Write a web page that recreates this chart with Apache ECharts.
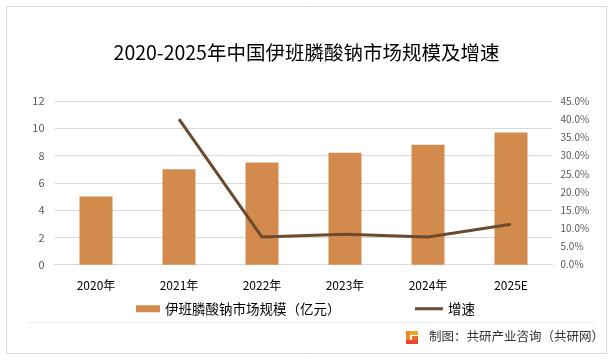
<!DOCTYPE html>
<html><head><meta charset="utf-8">
<script src="https://cdn.jsdelivr.net/npm/echarts@6/dist/echarts.min.js"></script>
<style>html,body{margin:0;padding:0;background:#fff}#c{width:613px;height:360px}</style>
</head><body><div id="c"></div>
<script>
const categories = ['2020年','2021年','2022年','2023年','2024年','2025E'];
const marketSize = [5.0, 7.0, 7.5, 8.2, 8.8, 9.7];
const growth = [null, 40.0, 7.6, 8.4, 7.6, 11.1];
const leftTicks = {min:0, max:12, interval:2};
const rightTicks = {min:0, max:45, interval:5};
const barName = '伊班膦酸钠市场规模（亿元）';
const lineName = '增速';

const font = '"Noto Sans CJK SC","Microsoft YaHei",sans-serif';
const chart = echarts.init(document.getElementById('c'), null, {renderer:'canvas'});
chart.setOption({
  animation:false,
  backgroundColor:'#fff',
  textStyle:{fontFamily:font},
  title:{text:'2020-2025年中国伊班膦酸钠市场规模及增速', left:'center', top:38,
    textStyle:{fontSize:19.5, fontWeight:'normal', color:'#000', fontFamily:font}},
  grid:{left:54.5, top:101, width:498, height:163.7, containLabel:false},
  legend:[
    {data:[barName], left:131, top:297, itemWidth:24, itemHeight:7, icon:'rect',
     textStyle:{fontSize:13.5, color:'#000', fontFamily:font}},
    {data:[{name:lineName, icon:'rect', itemStyle:{color:'#6B4A2E'}}], left:410, top:297, itemWidth:28, itemHeight:3,
     textStyle:{fontSize:13.5, color:'#000', fontFamily:font}}
  ],
  xAxis:{type:'category', data:categories,
    axisLine:{lineStyle:{color:'#d9d9d9'}}, axisTick:{show:false},
    axisLabel:{color:'#000', fontSize:12, margin:15, fontFamily:font,
      formatter:v=> v==='2025E' ? '{e|'+v+'}' : v,
      rich:{e:{fontSize:12, color:'#000', padding:[0,0,6,0], fontFamily:font}}}},
  yAxis:[
    {type:'value', min:leftTicks.min, max:leftTicks.max, interval:leftTicks.interval,
     axisLine:{show:false}, axisTick:{show:false},
     axisLabel:{color:'#595959', fontSize:11, margin:10, fontFamily:font},
     splitLine:{lineStyle:{color:'#d9d9d9'}}},
    {type:'value', min:rightTicks.min, max:rightTicks.max, interval:rightTicks.interval,
     axisLine:{show:false}, axisTick:{show:false}, splitLine:{show:false},
     axisLabel:{color:'#595959', fontSize:10, margin:8, fontFamily:font,
       formatter:v=>v.toFixed(1)+'%'}}
  ],
  series:[
    {name:barName, type:'bar', data:marketSize, barWidth:33, itemStyle:{color:'#D38B4D'}},
    {name:lineName, type:'line', yAxisIndex:1, data:growth, symbol:'none',
     lineStyle:{color:'#6B4A2E', width:3}, itemStyle:{color:'#6B4A2E'}}
  ],
  graphic:[
    {type:'rect', shape:{x:6.5,y:6.5,width:600,height:347}, style:{fill:'none', stroke:'#d9d9d9', lineWidth:1}, silent:true},
    {type:'line', shape:{x1:28,y1:322.5,x2:595,y2:322.5}, style:{stroke:'#ebebeb', lineWidth:1}},
    {type:'group', left:406, top:331, children:[
      {type:'rect', shape:{x:0,y:0,width:12,height:4}, style:{fill:'#F6A623'}},
      {type:'rect', shape:{x:0,y:0,width:4,height:13}, style:{fill:'#F08A24'}},
      {type:'rect', shape:{x:0,y:9,width:12,height:4}, style:{fill:'#E8452C'}},
      {type:'rect', shape:{x:6,y:5,width:6,height:4}, style:{fill:'#EE6A2A'}}
    ]},
    {type:'text', left:429, top:330, style:{text:'制图：共研产业咨询（共研网）', fill:'#333', font:'12.5px '+font}}
  ]
});
</script></body></html>
